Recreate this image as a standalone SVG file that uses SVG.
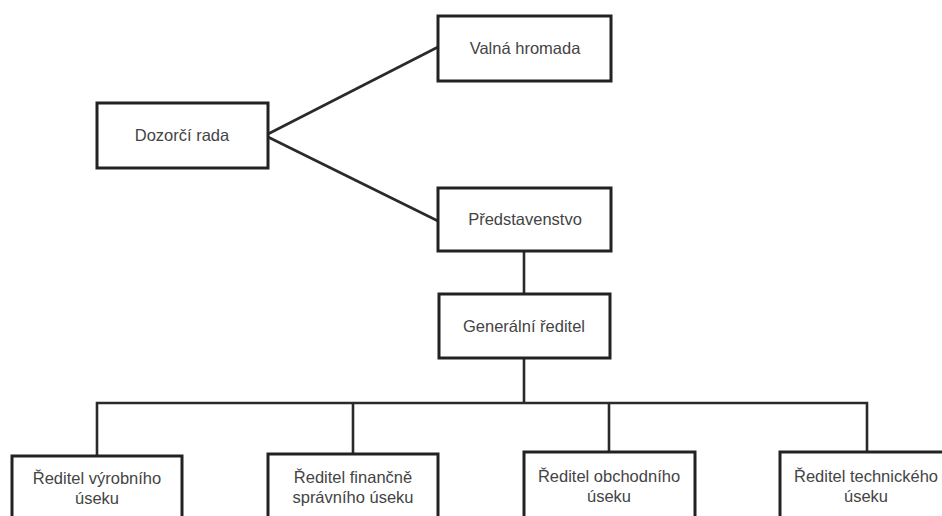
<svg xmlns="http://www.w3.org/2000/svg" width="942" height="516" viewBox="0 0 942 516">
<style>
.box{fill:#fff;stroke:#222;stroke-width:3}
.t{font-family:"Liberation Sans",Arial,sans-serif;font-size:16.5px;fill:#444;text-anchor:middle}
.c{fill:none;stroke:#2a2a2a;stroke-width:2.6}
</style>
<rect width="942" height="516" fill="#fff"/>
<g id="connectors">
<path class="c" d="M268,134 L438,47"/>
<path class="c" d="M268,137 L438,221"/>
<path class="c" d="M524,251 V294"/>
<path class="c" d="M524,358 V403"/>
<path class="c" d="M97,455 V403 H867 V454"/>
<path class="c" d="M353,403 V454"/>
<path class="c" d="M609,403 V454"/>
</g>
<g id="valna">
<rect class="box" x="438" y="16" width="173" height="65"/>
<text class="t" x="525" y="54">Valná hromada</text>
</g>
<g id="dozorci">
<rect class="box" x="97" y="103" width="171" height="65"/>
<text class="t" x="182" y="141">Dozorčí rada</text>
</g>
<g id="predstavenstvo">
<rect class="box" x="438" y="188" width="173" height="63"/>
<text class="t" x="525" y="225">Představenstvo</text>
</g>
<g id="generalni">
<rect class="box" x="439" y="294" width="171" height="64"/>
<text class="t" x="524" y="332">Generální ředitel</text>
</g>
<g id="vyrobni">
<rect class="box" x="12" y="456" width="170" height="66"/>
<text class="t" x="97" y="484">Ředitel výrobního</text>
<text class="t" x="97" y="504">úseku</text>
</g>
<g id="financni">
<rect class="box" x="268" y="454" width="170" height="68"/>
<text class="t" x="353" y="483">Ředitel finančně</text>
<text class="t" x="353" y="503">správního úseku</text>
</g>
<g id="obchodni">
<rect class="box" x="524" y="452" width="171" height="70"/>
<text class="t" x="609" y="482">Ředitel obchodního</text>
<text class="t" x="609" y="502">úseku</text>
</g>
<g id="technicky">
<rect class="box" x="780" y="452" width="172" height="70"/>
<text class="t" x="866" y="482">Ředitel technického</text>
<text class="t" x="866" y="502">úseku</text>
</g>
</svg>
